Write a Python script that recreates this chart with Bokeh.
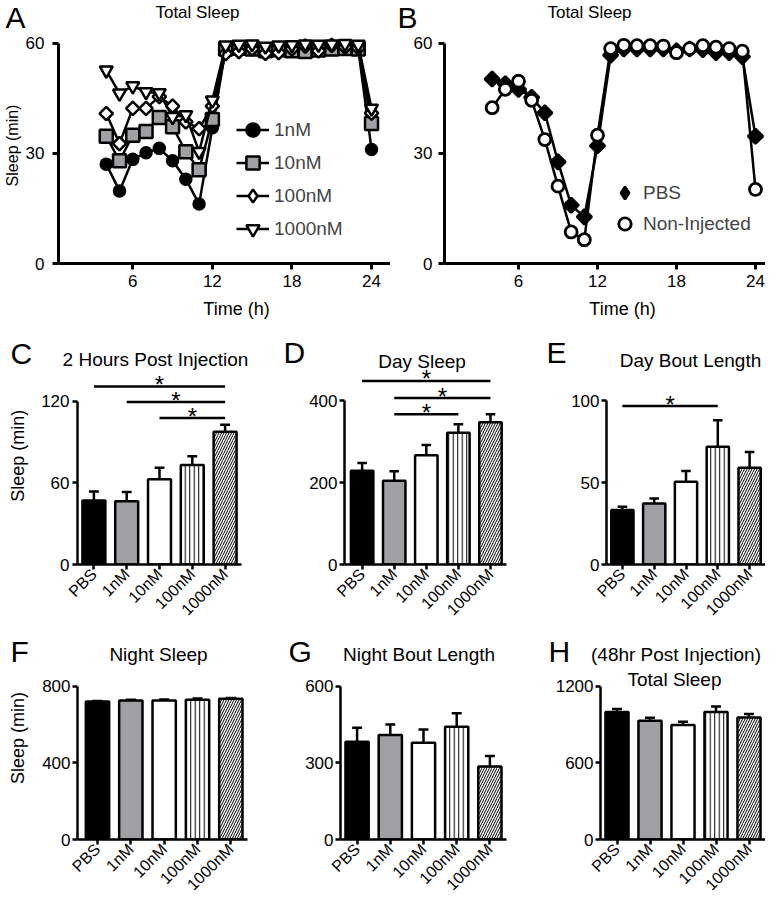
import math
from bokeh.plotting import figure
from bokeh.models import Range1d, FixedTicker, Legend, LegendItem, ColumnDataSource
from bokeh.layouts import row, column
from bokeh.embed import file_html
from bokeh.resources import INLINE
from bokeh.core.properties import value

FONT = "Liberation Sans"

# ---------------- data: panels A and B (hourly sleep, min) ----------------
hours = [4, 5, 6, 7, 8, 9, 10, 11, 12, 13, 14, 15, 16, 17, 18, 19, 20, 21, 22, 23, 24]
a_1nM = [27.1, 19.8, 28.4, 30.2, 31.4, 28.0, 23.0, 16.2, 37.0,
         58.5, 58.8, 59.0, 58.2, 58.5, 58.8, 58.5, 58.7, 59.0, 58.8, 58.5, 31.1]
a_10nM = [34.7, 28.0, 35.0, 36.0, 39.8, 37.3, 30.5, 25.6, 39.3,
          58.5, 58.7, 58.5, 58.0, 58.3, 58.0, 57.8, 58.2, 58.5, 58.6, 58.5, 38.2]
a_100nM = [40.9, 32.7, 42.3, 42.3, 45.5, 42.9, 38.6, 36.8, 42.9,
           57.2, 57.8, 58.5, 57.3, 57.5, 58.5, 59.3, 58.0, 59.5, 59.0, 58.8, 41.0]
a_1000nM = [52.7, 46.4, 48.4, 46.8, 46.5, 40.0, 40.5, 30.5, 44.5,
            59.5, 59.7, 59.8, 59.2, 59.5, 59.6, 59.8, 59.7, 59.8, 59.9, 59.7, 42.3]
b_pbs = [50.3, 49.0, 47.5, 45.3, 41.1, 27.7, 15.9, 12.7, 32.1,
         56.8, 58.5, 58.5, 58.5, 58.5, 58.0, 58.5, 58.3, 57.5, 57.5, 56.4, 34.7]
b_noninj = [42.5, 47.5, 49.7, 44.5, 33.8, 21.1, 8.6, 6.5, 35.0,
            58.6, 59.5, 59.4, 59.4, 59.3, 57.5, 58.6, 59.4, 59.0, 58.6, 57.9, 20.2]

# ---------------- data: bar panels ----------------
groups = ["PBS", "1nM", "10nM", "100nM", "1000nM"]
c_mean = [47.0, 46.5, 62.5, 73.0, 97.5]
c_sem = [6.5, 6.8, 8.5, 6.5, 5.0]
c_sig_from = ["PBS", "1nM", "10nM"]
c_sig_to = ["1000nM", "1000nM", "1000nM"]
c_sig_y = [130.7, 119.2, 107.5]

d_mean = [229, 205, 267, 322, 348]
d_sem = [19, 23, 25, 21, 19]
d_sig_from = ["PBS", "1nM", "1nM"]
d_sig_to = ["1000nM", "1000nM", "100nM"]
d_sig_y = [448.7, 407.0, 367.5]

e_mean = [33.3, 37.3, 50.5, 72.0, 59.2]
e_sem = [2.0, 3.1, 6.7, 16.2, 9.6]
e_sig_from = ["PBS"]
e_sig_to = ["100nM"]
e_sig_y = [96.8]

f_mean = [721, 726, 726, 730, 735]
f_sem = [2, 4, 5, 6, 4]

g_mean = [383, 409, 379, 442, 286]
g_sem = [55, 41, 52, 52, 41]

h_mean = [998, 930, 896, 998, 956]
h_sem = [24, 24, 26, 44, 27]

# ---------------- styles ----------------
bar_fill = ["black", "#a0a0a4", "white", "white", "white"]
bar_hatch = [" ", " ", " ", "|", "/"]
bar_hscale = [4.0, 4.0, 4.0, 4.5, 5.0]


def new_fig(w, h, bl, br, bt, bb, xr, yr):
    p = figure(width=w, height=h, x_range=Range1d(*xr), y_range=Range1d(*yr),
               output_backend="svg", toolbar_location=None,
               min_border_left=bl, min_border_right=br,
               min_border_top=bt, min_border_bottom=bb)
    p.outline_line_color = None
    p.xgrid.visible = False
    p.ygrid.visible = False
    p.background_fill_color = "white"
    p.border_fill_color = "white"
    # remember the frame geometry (screen px) to place titles inside the frame
    p.tags = [dict(fw=w - bl - br, fh=h - bt - bb, xr=xr, yr=yr)]
    return p


def band(w, h):
    """Blank text strip: one screen pixel per unit, y growing downwards."""
    p = figure(width=w, height=h, x_range=Range1d(0, w), y_range=Range1d(h, 0),
               x_axis_type=None, y_axis_type=None, output_backend="svg",
               toolbar_location=None, min_border=0)
    p.outline_line_color = None
    p.background_fill_color = "white"
    p.border_fill_color = "white"
    return p


def btext(p, text, x, y, size, align="center", angle=0.0):
    p.text(x=[x], y=[y], text=[text], text_font=value(FONT), text_font_size=f"{size}px",
           text_align=align, text_baseline="middle", angle=angle, text_color="black")


def ftext(p, text, dx, dy, size):
    """Title inside a frame: dx, dy are px from the frame's left / bottom edge."""
    g = p.tags[0]
    x = g["xr"][0] + dx / g["fw"] * (g["xr"][1] - g["xr"][0])
    y = g["yr"][0] + dy / g["fh"] * (g["yr"][1] - g["yr"][0])
    btext(p, text, x, y, size)


def style_axes(p, lw, xticks, yticks, ybounds, tick_size, xtick_size=None, cat=False,
               ystand=3, xstand=5):
    for ax in (p.xaxis[0], p.yaxis[0]):
        ax.axis_line_width = lw
        ax.axis_line_color = "black"
        ax.major_tick_line_width = lw
        ax.major_tick_line_color = "black"
        ax.major_tick_out = 6
        ax.major_tick_in = 0
        ax.minor_tick_line_color = None
        ax.major_label_text_font = FONT
        ax.major_label_text_font_size = f"{tick_size}px"
        ax.major_label_text_color = "black"
    p.yaxis.major_label_standoff = ystand
    p.xaxis.major_label_standoff = xstand
    p.yaxis.ticker = FixedTicker(ticks=yticks)
    p.yaxis.bounds = ybounds
    p.xaxis.ticker = FixedTicker(ticks=xticks)
    if cat:
        p.yaxis.major_tick_out = 5
        p.xaxis.major_label_overrides = {i + 1: g for i, g in enumerate(groups)}
        p.xaxis.major_label_orientation = math.pi / 4
        p.xaxis.major_label_text_font_size = f"{xtick_size}px"
        p.xaxis.major_label_standoff = 2
        p.xaxis.major_tick_out = 5


def bar_panel(p, means, sems, sig_from=None, sig_to=None, sig_y=None):
    xs = [i + 1 for i in range(len(groups))]
    tops = [m + s for m, s in zip(means, sems)]
    p.segment(x0=xs, y0=means, x1=xs, y1=tops, line_color="black", line_width=2.5)
    p.segment(x0=[x - 0.15 for x in xs], y0=tops, x1=[x + 0.15 for x in xs], y1=tops,
              line_color="black", line_width=2.5)
    src = ColumnDataSource(dict(x=xs, top=means, fill=bar_fill, hatch=bar_hatch, hs=bar_hscale))
    p.vbar(x="x", top="top", bottom=0, width=0.7, source=src, fill_color="fill",
           line_color="black", line_width=2.5, hatch_pattern="hatch", hatch_color="black",
           hatch_scale="hs", hatch_weight=1.0)
    if sig_y:
        x0 = [groups.index(g) + 1 for g in sig_from]
        x1 = [groups.index(g) + 1 for g in sig_to]
        p.segment(x0=x0, y0=sig_y, x1=x1, y1=sig_y, line_color="black", line_width=2.5)
        p.text(x=[(a + b) / 2 for a, b in zip(x0, x1)], y=sig_y, text=["*"] * len(sig_y),
               text_font=value(FONT), text_font_size="24px", text_align="center",
               text_baseline="middle", y_offset=-2, text_color="black")


# =============== header strip above row 1 (y 0-34) ===============
H1 = band(765, 34)
btext(H1, "A", 5, 17, 30, align="left")
btext(H1, "Total Sleep", 197, 11.5, 17)
btext(H1, "B", 397, 17, 30, align="left")
btext(H1, "Total Sleep", 589, 11.5, 17)

# =============== Row 1 (y 34-294) ===============
LA = band(22, 260)
btext(LA, "Sleep (min)", 12, 126, 16, angle=math.pi / 2)

pA = new_fig(368, 260, 36, 0, 0, 31, (0.4, 25.43), (0, 62.45))
style_axes(pA, 3, [6, 12, 18, 24], [0, 30, 60], (0, 60), 17, ystand=8, xstand=5)
series_A = [("1nM", a_1nM), ("10nM", a_10nM), ("100nM", a_100nM), ("1000nM", a_1000nM)]
mk_A = {"1nM": ("circle", 11, "black", 0.0),
        "10nM": ("square", 13, "#a0a0a4", 0.0),
        "100nM": ("square", 9.5, "white", math.pi / 4),
        "1000nM": ("inverted_triangle", 13, "white", 0.0)}
itemsA = []
for name, vals in series_A:
    mk, sz, fc, ang = mk_A[name]
    l = pA.line(hours, vals, line_color="black", line_width=2.5)
    rs = [l]
    if ang:
        # diamond key for the legend (legend keys are never rotated); hidden under the rotated square
        rs.append(pA.scatter(hours, vals, marker="diamond", size=12.5, fill_color=fc,
                             line_color="black", line_width=2.5))
    s = pA.scatter(hours, vals, marker=mk, size=sz, angle=ang, fill_color=fc,
                   line_color="black", line_width=2.5)
    if not ang:
        rs.append(s)
    itemsA.append(LegendItem(label=name, renderers=rs))
legA = Legend(items=itemsA, location=(178, 18), glyph_width=33, glyph_height=33, spacing=0,
              padding=0, margin=0, label_standoff=5, label_text_font=FONT,
              label_text_font_size="19px", border_line_color=None, background_fill_alpha=0)
pA.add_layout(legA)

pB = new_fig(375, 260, 54, 0, 0, 31, (0.38, 24.76), (0, 62.45))
style_axes(pB, 3, [6, 12, 18, 24], [0, 30, 60], (0, 60), 17, ystand=6, xstand=5)
lp = pB.line(hours, b_pbs, line_color="black", line_width=2.5)
kp = pB.scatter(hours, b_pbs, marker="diamond", size=14, fill_color="black",
                line_color="black", line_width=2.5)
sp = pB.scatter(hours, b_pbs, marker="square", angle=math.pi / 4, size=10.5, fill_color="black",
                line_color="black", line_width=2.5)
ln = pB.line(hours, b_noninj, line_color="black", line_width=2.5)
sn = pB.scatter(hours, b_noninj, marker="circle", size=12, fill_color="white",
                line_color="black", line_width=2.8)
legB = Legend(items=[LegendItem(label="PBS", renderers=[kp]),
                     LegendItem(label="Non-Injected", renderers=[sn])],
              location=(165, 24), glyph_width=31, glyph_height=31, spacing=0, padding=0,
              margin=0, label_standoff=3, label_text_font=FONT, label_text_font_size="19px",
              border_line_color=None, background_fill_alpha=0)
pB.add_layout(legB)

# =============== x-axis titles strip (y 294-322) ===============
HT = band(765, 28)
btext(HT, "Time (h)", 236, 14, 18)
btext(HT, "Time (h)", 622, 14, 18)

# =============== Row 2 (y 322-627) ===============
xt = [1, 2, 3, 4, 5]
bandC = band(262, 48)
btext(bandC, "C", 10, 31, 30, align="left")
btext(bandC, "2 Hours Post Injection", 155, 37.3, 19)
LC = band(38, 257)
btext(LC, "Sleep (min)", 17.5, 113, 18, angle=math.pi / 2)
pC = new_fig(224, 257, 38, 21, 0, 62, (0.5, 5.5), (0, 142.4))
style_axes(pC, 2.5, xt, [0, 60, 120], (0, 120), 17, 16, cat=True, ystand=3)
bar_panel(pC, c_mean, c_sem, c_sig_from, c_sig_to, c_sig_y)

LD = band(44, 305)
btext(LD, "D", 21, 38, 30, align="left")
pD = new_fig(212, 305, 36, 12, 0, 62, (0.45, 5.5), (0, 591.6))
style_axes(pD, 2.5, xt, [0, 200, 400], (0, 400), 17, 16, cat=True, ystand=2)
bar_panel(pD, d_mean, d_sem, d_sig_from, d_sig_to, d_sig_y)
ftext(pD, "Day Sleep", 78.5, 204, 19)

LE = band(50, 305)
btext(LE, "E", 28, 38, 30, align="left")
pE = new_fig(197, 305, 38, 0, 0, 62, (0.5, 5.5), (0, 147.9))
style_axes(pE, 2.5, xt, [0, 50, 100], (0, 100), 17, 16, cat=True, ystand=2)
bar_panel(pE, e_mean, e_sem, e_sig_from, e_sig_to, e_sig_y)
ftext(pE, "Day Bout Length", 84, 205, 19)

# =============== header strip above row 3 (y 627-668) ===============
H3 = band(765, 41)
btext(H3, "F", 10, 23.5, 30, align="left")
btext(H3, "Night Sleep", 158, 26.5, 19)
btext(H3, "G", 288, 23.5, 30, align="left")
btext(H3, "Night Bout Length", 418.5, 26.5, 19)
btext(H3, "H", 548, 23.5, 30, align="left")
btext(H3, "(48hr Post Injection)", 675.5, 27, 19)

# =============== Row 3 (y 668-902) ===============
LF = band(30, 234)
btext(LF, "Sleep (min)", 17.5, 95, 18, angle=math.pi / 2)

pF = new_fig(232, 234, 47, 15, 0, 61, (0.4, 5.5), (0, 892.9))
style_axes(pF, 2.5, xt, [0, 400, 800], (0, 800), 17, 16, cat=True, ystand=2)
bar_panel(pF, f_mean, f_sem)

pG = new_fig(256, 234, 78, 12, 0, 61, (0.5, 5.5), (0, 669.7))
style_axes(pG, 2.5, xt, [0, 300, 600], (0, 600), 17, 16, cat=True, ystand=2)
bar_panel(pG, g_mean, g_sem)

pH = new_fig(247, 234, 82, 0, 0, 61, (0.5, 5.5), (0, 1339.4))
style_axes(pH, 2.5, xt, [0, 600, 1200], (0, 1200), 17, 16, cat=True, ystand=2)
bar_panel(pH, h_mean, h_sem)
ftext(pH, "Total Sleep", 74, 162, 19)

layout = column(
    H1,
    row(LA, pA, pB),
    HT,
    row(column(bandC, row(LC, pC)), row(LD, pD), row(LE, pE)),
    H3,
    row(LF, pF, pG, pH),
)
open("out.html", "w").write(file_html(layout, INLINE, title="Sleep"))
